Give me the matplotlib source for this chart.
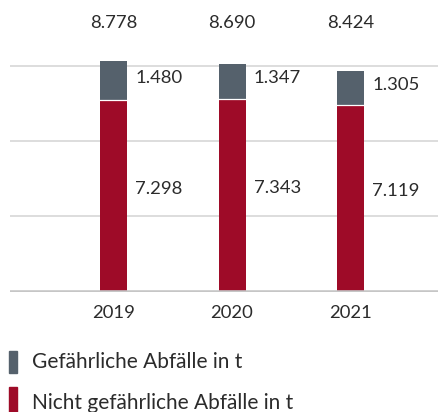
import matplotlib
matplotlib.use("Agg")
import matplotlib.pyplot as plt
import matplotlib.transforms as mtrans
from matplotlib.patches import Rectangle
import numpy as np

years = ["2019", "2020", "2021"]
nicht_gefaehrlich = [7298, 7343, 7119]
gefaehrlich = [1480, 1347, 1305]
totals = [8778, 8690, 8424]
grid_ticks = [0, 2870, 5740, 8610]
legend_labels = ["Gefährliche Abfälle in t", "Nicht gefährliche Abfälle in t"]

RED = "#9e0b28"
GRAY = "#55616c"
TXT = "#2b2b2b"
FONT = "Lato"
FS = 13.3
WT = "normal"

def fmt(v):
    return f"{v:,}".replace(",", ".")

W, H = 439, 412
fig = plt.figure(figsize=(W / 100, H / 100), dpi=100)
fig.patch.set_facecolor("white")

base_px = 291.7
top_px = 10
scale = 0.02625  # px per unit
ax = fig.add_axes([10 / W, (H - base_px) / H, 429 / W, (base_px - top_px) / H])
ax.set_ylim(0, (base_px - top_px) / scale)
x = np.arange(len(years))
spacing = 118.5
ax.set_xlim(-(113.5 - 10) / spacing, 2 + (439 - 350.5) / spacing)
bw = 27 / spacing

for t in grid_ticks[1:]:
    ax.axhline(t, color="#d3d3d3", lw=1.1, zorder=0)
ax.axhline(0, color="#c6c6c6", lw=2.6, zorder=3)

ax.bar(x, nicht_gefaehrlich, width=bw, color=RED, zorder=2)
ax.bar(x, gefaehrlich, width=bw, bottom=nicht_gefaehrlich, color=GRAY, zorder=2)
for xi, v in zip(x, nicht_gefaehrlich):
    ax.plot([xi - bw / 2, xi + bw / 2], [v, v], color="white", lw=0.9, zorder=2.5)

fig_y = mtrans.blended_transform_factory(ax.transData, fig.transFigure)
for i, (r, g, tot) in enumerate(zip(nicht_gefaehrlich, gefaehrlich, totals)):
    ax.annotate(fmt(r), (x[i] + bw / 2, r / 2), xytext=(6.0, 5.0), textcoords="offset points",
                ha="left", va="center", fontsize=FS, color=TXT, family=FONT, weight=WT)
    ax.annotate(fmt(g), (x[i] + bw / 2, r + g / 2), xytext=(6.0, 2.2), textcoords="offset points",
                ha="left", va="center", fontsize=FS, color=TXT, family=FONT, weight=WT)
    ax.text(x[i], (H - 23) / H, fmt(tot), transform=fig_y, ha="center", va="center",
            fontsize=FS, color=TXT, family=FONT, weight=WT)
    ax.text(x[i], (H - 313.3) / H, years[i], transform=fig_y, ha="center", va="center",
            fontsize=FS, color=TXT, family=FONT, weight=WT)

ax.set_xticks([])
ax.set_yticks([])
for s in ax.spines.values():
    s.set_visible(False)
ax.patch.set_alpha(0)

# legend
fig.patches.append(Rectangle((9.5 / W, (H - 373) / H), 7.5 / W, 22 / H, transform=fig.transFigure,
                             color=GRAY, figure=fig))
fig.patches.append(Rectangle((9.5 / W, 0), 7.5 / W, (H - 387) / H, transform=fig.transFigure,
                             color=RED, figure=fig))
fig.text(32 / W, (H - 362) / H, legend_labels[0], ha="left", va="center", fontsize=15.0,
         color=TXT, family=FONT, weight=WT)
fig.text(32 / W, (H - 403) / H, legend_labels[1], ha="left", va="center", fontsize=15.0,
         color=TXT, family=FONT, weight=WT)

fig.savefig("out.png", dpi=100, facecolor="white")
